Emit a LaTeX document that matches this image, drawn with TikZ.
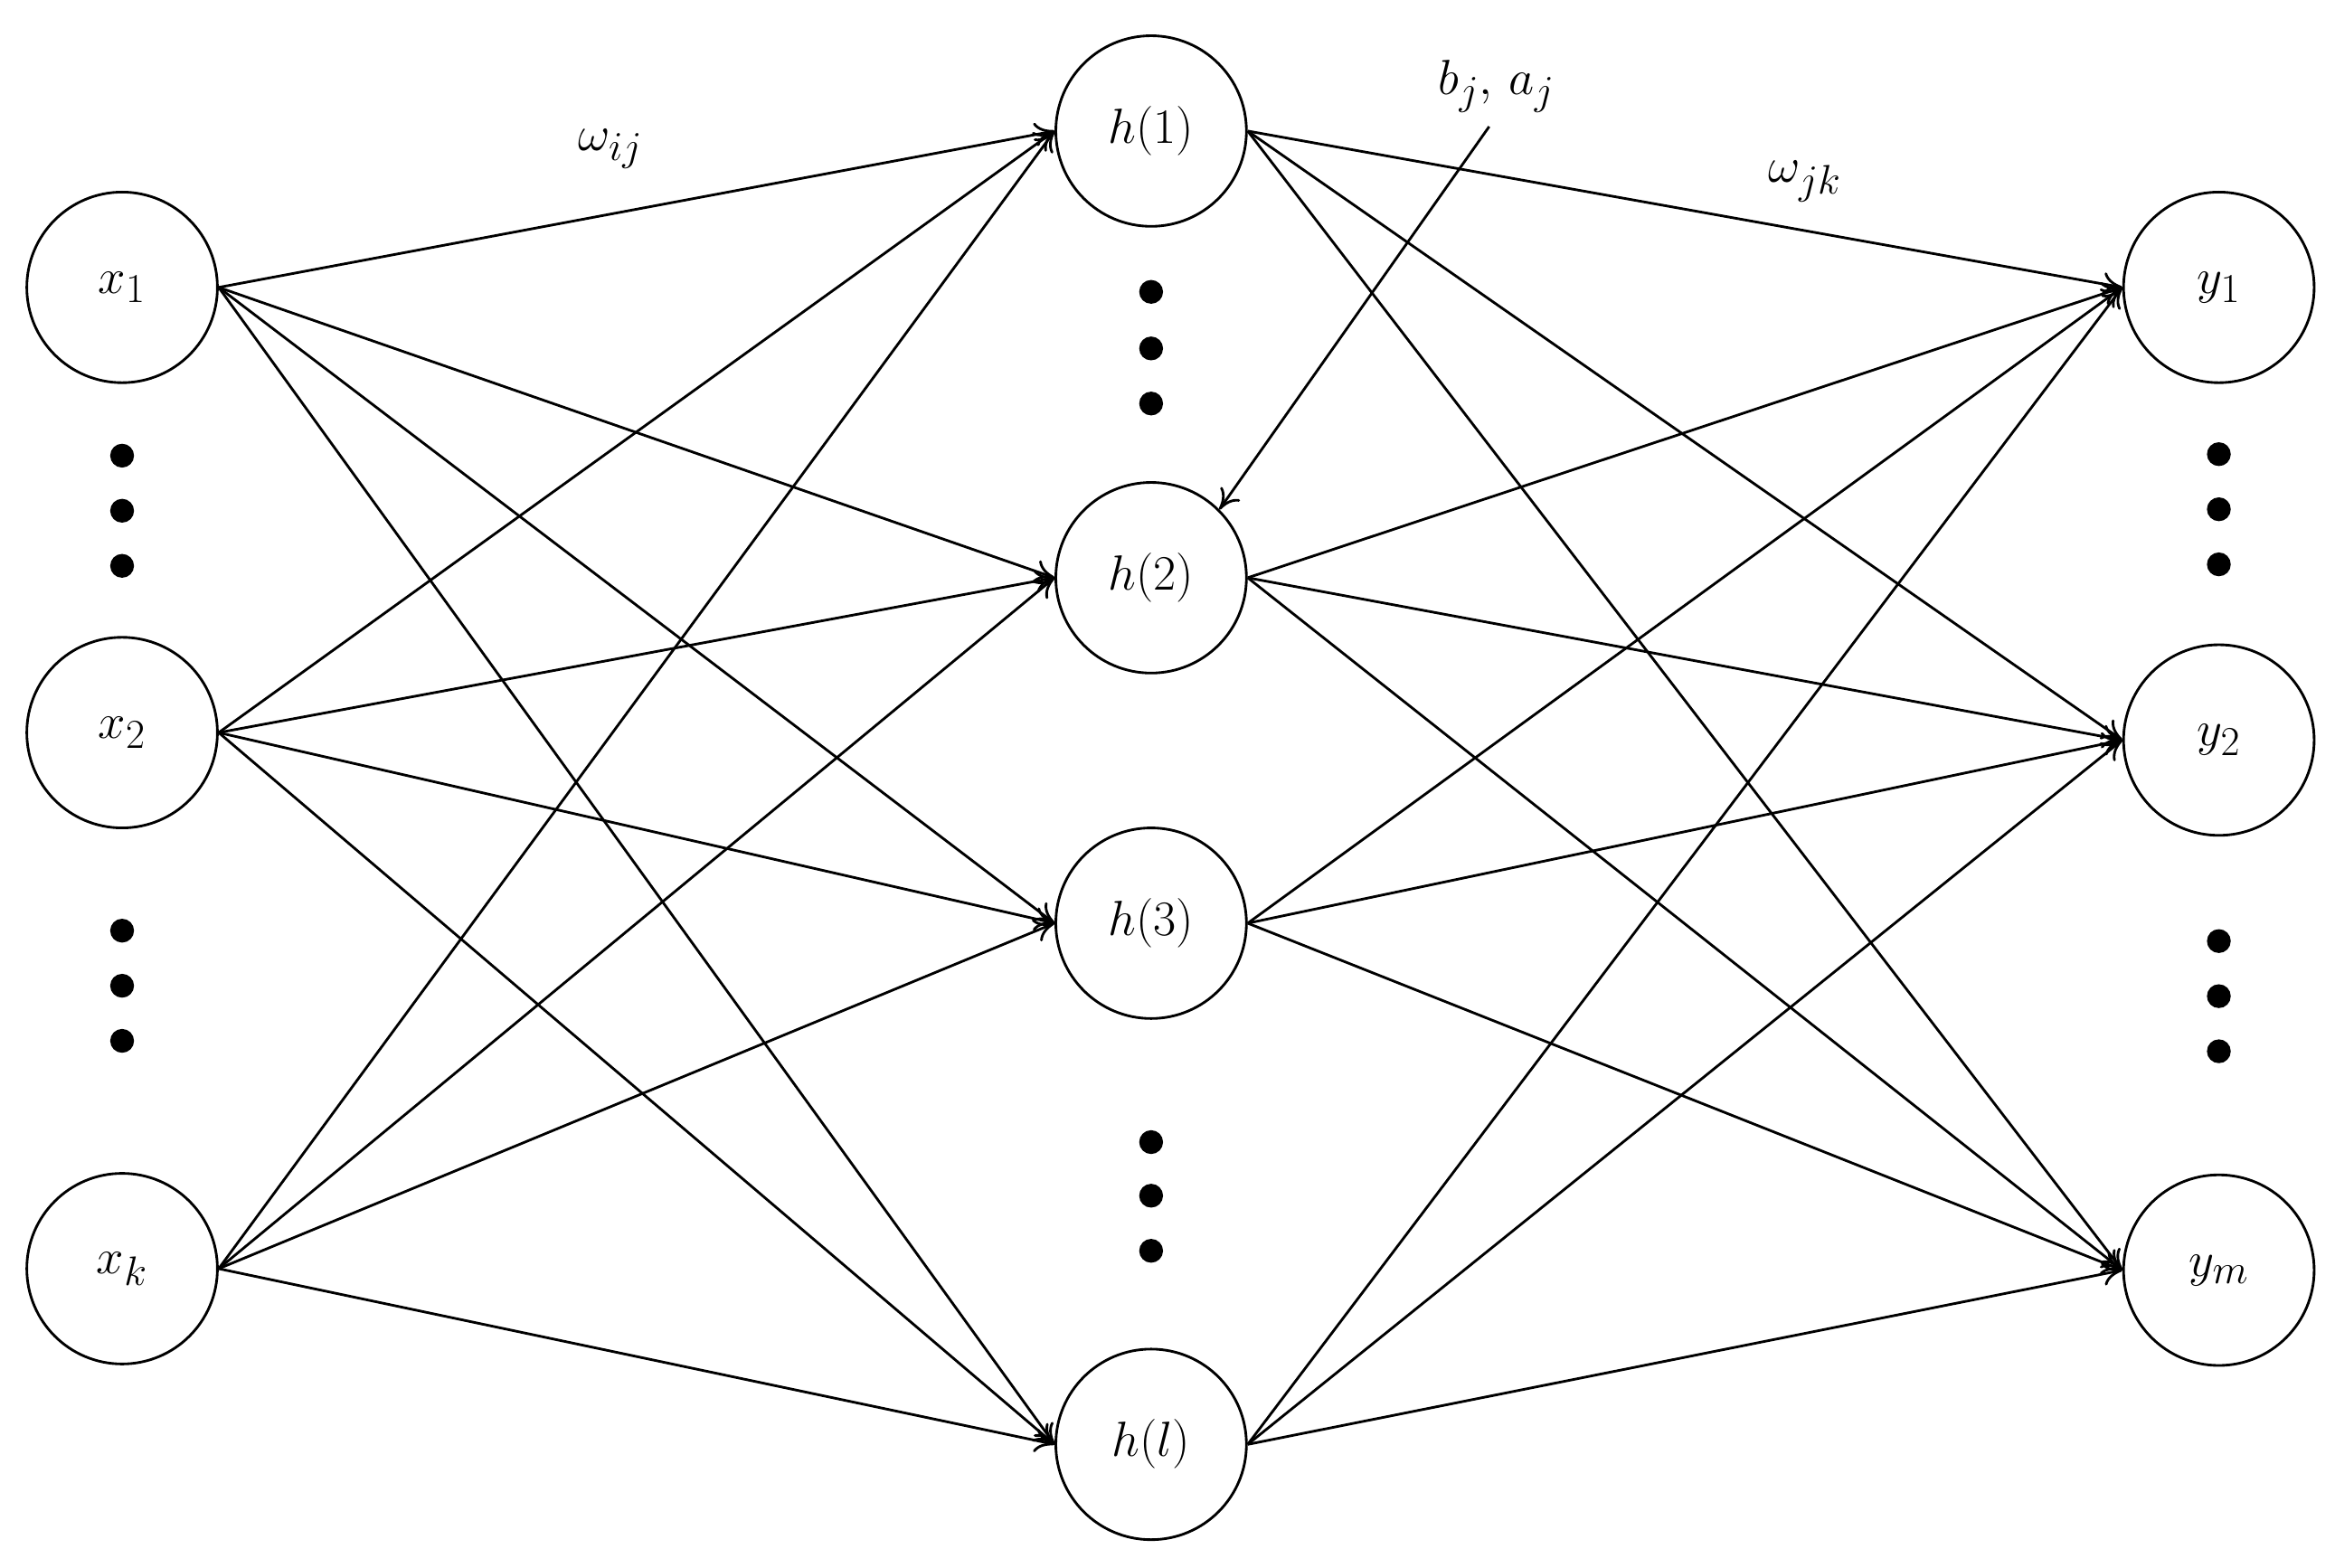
\documentclass[tikz,border=0pt]{standalone}
\usepackage{fontspec}
\setmainfont{Liberation Serif}
\usetikzlibrary{arrows.meta}
\tikzset{every picture/.style={line width=1.3pt}}
\tikzset{neuron/.style={draw,circle,minimum size=96pt,inner sep=0pt,font=\fontsize{28}{32}\selectfont}}
\tikzset{link/.style={-{To[length=10pt,width=12pt]}}}
\tikzset{dot/.style={fill,circle,inner sep=0pt,minimum size=12pt}}

\begin{document}
\begin{tikzpicture}[x=0.75pt,y=0.75pt,yscale=-1,xscale=1]
\useasboundingbox (0,0) rectangle (1568,1053);

% input layer
\node[neuron] (x1) at (82,193) {$x_1$};
\node[neuron] (x2) at (82,492) {$x_2$};
\node[neuron] (xk) at (82,852) {$x_k$};
% hidden layer
\node[neuron] (h1) at (773,88) {$h(1)$};
\node[neuron] (h2) at (773,388) {$h(2)$};
\node[neuron] (h3) at (773,620) {$h(3)$};
\node[neuron] (hl) at (773,970) {$h(l)$};
% output layer
\node[neuron] (y1) at (1490,193) {$y_1$};
\node[neuron] (y2) at (1490,497) {$y_2$};
\node[neuron] (ym) at (1490,853) {$y_m$};

% dots
\foreach \yy in {306,343,380,625,662,699} \node[dot] at (82,\yy) {};
\foreach \yy in {196,234,271,767,803,840} \node[dot] at (773,\yy) {};
\foreach \yy in {305,342,379,632,669,706} \node[dot] at (1490,\yy) {};

% connections
\foreach \i in {x1,x2,xk}
  \foreach \j in {h1,h2,h3,hl}
    \draw[link] (\i.east) -- (\j.west);
\foreach \j in {h1,h2,h3,hl}
  \foreach \k in {y1,y2,ym}
    \draw[link] (\j.east) -- (\k.west);

% labels
\node[font=\fontsize{28}{32}\selectfont] (wij) at (410,100) {$\omega_{ij}$};
\node[font=\fontsize{28}{32}\selectfont] (wjk) at (1212,122) {$\omega_{jk}$};
\node[font=\fontsize{28}{32}\selectfont] (ba) at (1005,58) {$b_{j},\, a_j$};
\coordinate (bstart) at (1000,85);
\draw[link] (bstart) -- (h2.north east);
\end{tikzpicture}
\end{document}
